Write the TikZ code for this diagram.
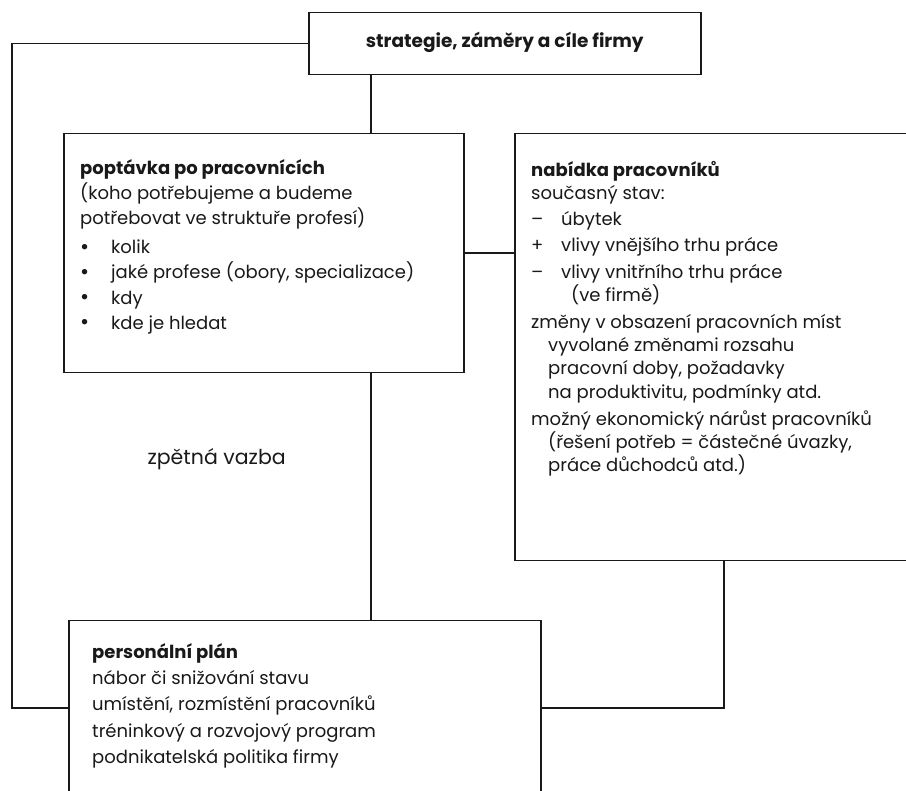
\documentclass[tikz,border=0pt]{standalone}
\usepackage{fontspec}
\setmainfont{Poppins}
\newcommand{\bul}{\makebox[31pt][l]{\fontsize{22}{22}\selectfont\raisebox{-0.5pt}{•}}}
\begin{document}
\begin{tikzpicture}[x=1pt,y=-1pt,
  box/.style={draw=black!90, line width=1.5pt, fill=white, inner sep=0pt, anchor=north west},
  conn/.style={draw=black!90, line width=1.5pt},
  txt/.style={anchor=north west, inner sep=0pt, align=left, text=black!90,
    font=\fontsize{18}{25.2}\selectfont}
]
\useasboundingbox (0,0) rectangle (906,791);
\clip (0,0) rectangle (906,791);
% boxes
\node[box, minimum width=392pt, minimum height=62pt] (top) at (308,12) {};
\node[box, minimum width=400pt, minimum height=239pt] (demand) at (63,133) {};
\node[box, minimum width=430pt, minimum height=427pt] (supply) at (514,133) {};
\node[box, minimum width=472pt, minimum height=220pt] (plan) at (68,620) {};
% helper coordinates
\coordinate (v1) at (371,0);
\coordinate (h1) at (0,253);
\coordinate (loopL) at (12,708);
\coordinate (loopR) at (724,708);
% connectors
\draw[conn] (top.west) -| (loopL) -- (loopL -| plan.west);
\draw[conn] (top.south -| v1) -- (demand.north -| v1);
\draw[conn] (demand.east |- h1) -- (supply.west |- h1);
\draw[conn] (demand.south -| v1) -- (plan.north -| v1);
\draw[conn] (supply.south -| loopR) |- (plan.east |- loopR);
% texts
\node[font=\fontsize{18.5}{20}\selectfont\bfseries, text=black!90] (toptxt) at ([yshift=1pt]top.center) {strategie, záměry a cíle firmy};
\node[txt] (demandtxt) at (80,159) {\textbf{poptávka po pracovnících}\\
(koho potřebujeme a budeme\\
potřebovat ve struktuře profesí)\\[4pt]
\bul kolik\\
\bul jaké profese (obory, specializace)\\
\bul kdy\\
\bul kde je hledat};
\node[txt, font=\fontsize{18}{23.2}\selectfont] (supplytxt) at (531,161) {\textbf{nabídka pracovníků}\\
současný stav:\\[3pt]
\makebox[30pt][l]{–}úbytek\\[3pt]
\makebox[30pt][l]{+}vlivy vnějšího trhu práce\\[3pt]
\makebox[30pt][l]{–}vlivy vnitřního trhu práce\\
\hspace*{40pt}(ve firmě)\\[4pt]
změny v obsazení pracovních míst\\
\hspace*{17pt}vyvolané změnami rozsahu\\
\hspace*{17pt}pracovní doby, požadavky\\
\hspace*{17pt}na produktivitu, podmínky atd.\\[4pt]
možný ekonomický nárůst pracovníků\\
\hspace*{17pt}(řešení potřeb = částečné úvazky,\\
\hspace*{17pt}práce důchodců atd.)};
\node[txt, font=\fontsize{18}{26.3}\selectfont] (plantxt) at (92,643) {\textbf{personální plán}\\
nábor či snižování stavu\\
umístění, rozmístění pracovníků\\
tréninkový a rozvojový program\\
podnikatelská politika firmy};
\node[font=\fontsize{20.5}{22}\selectfont, text=black!90, anchor=west] (feedback) at (144,459) {zpětná vazba};
\end{tikzpicture}
\end{document}
